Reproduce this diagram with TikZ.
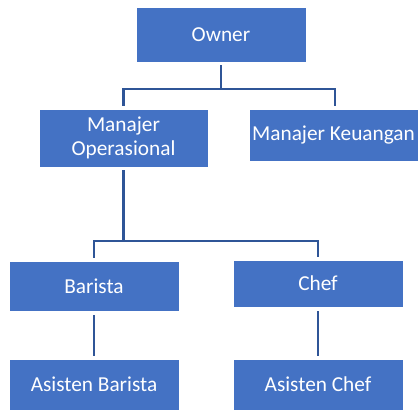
\documentclass[tikz,border=0pt]{standalone}
\usepackage{fontspec}
\setmainfont{Carlito}
\definecolor{boxblue}{HTML}{4472C4}
\definecolor{lineblue}{HTML}{2F5597}
\begin{document}
\begin{tikzpicture}[x=1pt,y=-1pt,
  box/.style={draw=white, line width=0.6pt, fill=boxblue, text=white,
    font=\fontsize{21.3}{23.5}\selectfont, align=center, inner sep=0pt},
  conn/.style={draw=lineblue, line width=2.2pt}]
\fill[white] (0,0) rectangle (418,410);
\useasboundingbox (0,0) rectangle (418,410);
\node[box, minimum width=170pt, minimum height=55pt] (owner) at (221,34.5) {Owner};
\node[box, minimum width=169pt, minimum height=58pt] (mo) at (123.5,138) {Manajer\\Operasional};
\node[box, minimum width=169pt, minimum height=52pt] (mk) at (333.5,135) {Manajer Keuangan};
\node[box, minimum width=170pt, minimum height=50pt] (barista) at (94,286) {Barista};
\node[box, minimum width=170pt, minimum height=47pt] (chef) at (318,283.5) {Chef};
\node[box, minimum width=170pt, minimum height=51pt] (ab) at (94,384.5) {Asisten Barista};
\node[box, minimum width=170pt, minimum height=51pt] (ac) at (318,384.5) {Asisten Chef};
\coordinate (j1) at (0,89);
\coordinate (j2) at (0,241);
\draw[conn] ([yshift=-3pt]owner.south) -- (owner.south |- j1);
\draw[conn] ([yshift=3pt]mo.north) |- ([xshift=1.5pt]mk.north |- j1) -- ([xshift=1.5pt,yshift=3pt]mk.north);
\draw[conn] ([yshift=-3pt]mo.south) -- (mo.south |- j2);
\draw[conn] ([yshift=3pt]barista.north) |- (chef.north |- j2) -- ([yshift=3pt]chef.north);
\draw[conn] ([yshift=-4pt]barista.south) -- ([yshift=3pt]ab.north);
\draw[conn] ([yshift=-4pt]chef.south) -- ([yshift=3pt]ac.north);
\end{tikzpicture}
\end{document}
